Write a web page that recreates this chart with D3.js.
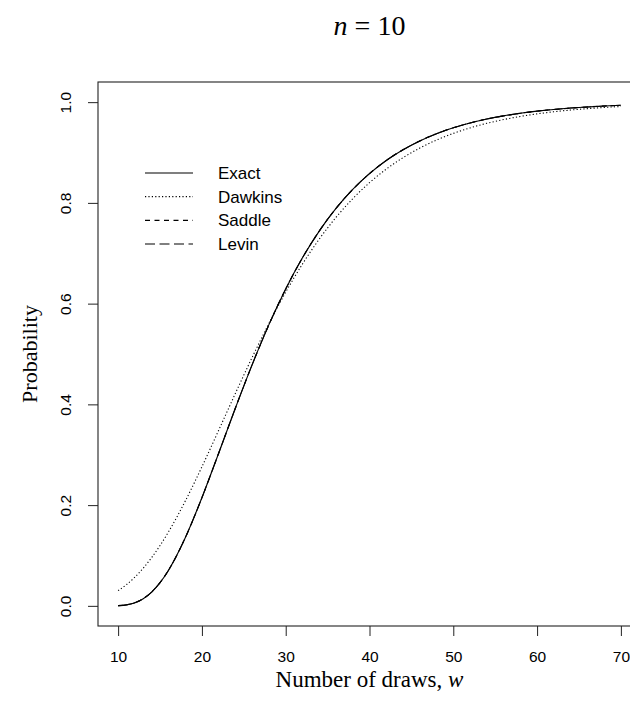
<!DOCTYPE html>
<html>
<head>
<meta charset="utf-8">
<script src="https://cdn.jsdelivr.net/npm/d3@7"></script>
<style>
  body { margin: 0; background: #fff; }
  svg { display: block; }
</style>
</head>
<body>
<svg id="chart" width="630" height="713"></svg>
<script>
// Data (coupon collector, n = 10)
const draws = [10, 11, 12, 13, 14, 15, 16, 18, 20, 22, 24, 26, 28, 30, 32, 34, 36, 38, 40,
  42, 44, 46, 48, 50, 52, 54, 56, 58, 60, 62, 64, 66, 68, 70];

const exact = [0.00036, 0.00200, 0.00619, 0.01427, 0.02732, 0.04595, 0.07031, 0.13467,
  0.21474, 0.30306, 0.39283, 0.47899, 0.55830, 0.62914, 0.69098, 0.74405, 0.78900,
  0.82671, 0.85810, 0.88407, 0.90545, 0.92301, 0.93737, 0.94910, 0.95866, 0.96645,
  0.97278, 0.97792, 0.98210, 0.98549, 0.98824, 0.99047, 0.99228, 0.99374];

const dawkins = [0.03022, 0.04216, 0.05698, 0.07484, 0.09578, 0.11973, 0.14653, 0.20755,
  0.27600, 0.34854, 0.42192, 0.49336, 0.56077, 0.62276, 0.67859, 0.72800, 0.77112,
  0.80832, 0.84011, 0.86707, 0.88977, 0.90881, 0.92471, 0.93792, 0.94887, 0.95795,
  0.96543, 0.97161, 0.97670, 0.98089, 0.98432, 0.98714, 0.98947, 0.99137];

const saddle = [0.00036, 0.00200, 0.00619, 0.01427, 0.02732, 0.04595, 0.07031, 0.13467,
  0.21474, 0.30306, 0.39283, 0.47899, 0.55830, 0.62914, 0.69098, 0.74405, 0.78900,
  0.82671, 0.85810, 0.88407, 0.90545, 0.92301, 0.93737, 0.94910, 0.95866, 0.96645,
  0.97278, 0.97792, 0.98210, 0.98549, 0.98824, 0.99047, 0.99228, 0.99374];

const levin = [0.00036, 0.00200, 0.00619, 0.01427, 0.02732, 0.04595, 0.07031, 0.13467,
  0.21474, 0.30306, 0.39283, 0.47899, 0.55830, 0.62914, 0.69098, 0.74405, 0.78900,
  0.82671, 0.85810, 0.88407, 0.90545, 0.92301, 0.93737, 0.94910, 0.95866, 0.96645,
  0.97278, 0.97792, 0.98210, 0.98549, 0.98824, 0.99047, 0.99228, 0.99374];

const xTicks = [10, 20, 30, 40, 50, 60, 70];
const yTicks = [0, 0.2, 0.4, 0.6, 0.8, 1.0];
const seriesNames = ["Exact", "Dawkins", "Saddle", "Levin"];

// Layout
const plotLeft = 98, plotRight = 641, plotTop = 82, plotBottom = 626;
const sans = "'Liberation Sans', Arial, Helvetica, sans-serif";
const serif = "'Liberation Serif', 'Times New Roman', serif";

const svg = d3.select("#chart");

// Scales (R style: 4% padding on each side)
const x = d3.scaleLinear().domain([7.6, 72.4]).range([plotLeft, plotRight]);
const y = d3.scaleLinear().domain([-0.04, 1.04]).range([plotBottom, plotTop]);

// Line styles per series
const dashes = { Exact: null, Dawkins: "1.2,2.2", Saddle: "5,4.5", Levin: "10,4.5" };
const values = { Exact: exact, Dawkins: dawkins, Saddle: saddle, Levin: levin };

const line = d3.line()
  .x(d => x(d[0]))
  .y(d => y(d[1]))
  .curve(d3.curveMonotoneX);

// Curves (draw approximations first, exact on top)
svg.append("g")
  .selectAll("path")
  .data(["Levin", "Saddle", "Dawkins", "Exact"])
  .join("path")
  .attr("d", s => line(draws.map((w, i) => [w, values[s][i]])))
  .attr("fill", "none")
  .attr("stroke", "#000")
  .attr("stroke-width", 1.1)
  .attr("stroke-dasharray", s => dashes[s]);

// Box
svg.append("rect")
  .attr("x", plotLeft)
  .attr("y", plotTop)
  .attr("width", plotRight - plotLeft)
  .attr("height", plotBottom - plotTop)
  .attr("fill", "none")
  .attr("stroke", "#222")
  .attr("stroke-width", 1.1);

// X axis
svg.append("g")
  .attr("transform", "translate(0," + plotBottom + ")")
  .call(d3.axisBottom(x).tickValues(xTicks).tickSize(10).tickSizeOuter(0).tickFormat(d3.format("d")))
  .call(g => g.select(".domain").remove())
  .call(g => g.selectAll("line").attr("stroke", "#222"))
  .call(g => g.selectAll("text")
    .attr("y", 30).attr("dy", "0.36em")
    .attr("font-family", sans).attr("font-size", 15.5).attr("fill", "#000"));

// Y axis with rotated labels
svg.append("g")
  .attr("transform", "translate(" + plotLeft + ",0)")
  .call(d3.axisLeft(y).tickValues(yTicks).tickSize(10).tickSizeOuter(0).tickFormat(d3.format(".1f")))
  .call(g => g.select(".domain").remove())
  .call(g => g.selectAll("line").attr("stroke", "#222"))
  .call(g => g.selectAll("text")
    .attr("x", 0).attr("dy", "0.36em")
    .attr("text-anchor", "middle")
    .attr("transform", "translate(-33,0) rotate(-90)")
    .attr("font-family", sans).attr("font-size", 15.5).attr("fill", "#000"));

// Axis titles
svg.append("text")
  .attr("x", (plotLeft + plotRight) / 2)
  .attr("y", 679)
  .attr("dy", "0.35em")
  .attr("text-anchor", "middle")
  .attr("font-family", serif)
  .attr("font-size", 23)
  .html("Number of draws, <tspan font-style='italic'>w</tspan>");

svg.append("text")
  .attr("transform", "translate(29," + (plotTop + plotBottom) / 2 + ") rotate(-90)")
  .attr("dy", "0.35em")
  .attr("text-anchor", "middle")
  .attr("font-family", serif)
  .attr("font-size", 22)
  .text("Probability");

// Main title
svg.append("text")
  .attr("x", (plotLeft + plotRight) / 2)
  .attr("y", 25)
  .attr("dy", "0.35em")
  .attr("text-anchor", "middle")
  .attr("font-family", serif)
  .attr("font-size", 28)
  .html("<tspan font-style='italic'>n</tspan> = 10");

// Legend
const legendY = d3.scalePoint().domain(seriesNames).range([173, 244]);
const legend = svg.append("g");

legend.selectAll("line")
  .data(seriesNames)
  .join("line")
  .attr("x1", 145).attr("x2", 193)
  .attr("y1", d => legendY(d)).attr("y2", d => legendY(d))
  .attr("stroke", "#000")
  .attr("stroke-width", 1.1)
  .attr("stroke-dasharray", d => dashes[d]);

legend.selectAll("text")
  .data(seriesNames)
  .join("text")
  .attr("x", 218)
  .attr("y", d => legendY(d))
  .attr("dy", "0.36em")
  .attr("font-family", sans)
  .attr("font-size", 17)
  .text(d => d);
</script>
</body>
</html>
